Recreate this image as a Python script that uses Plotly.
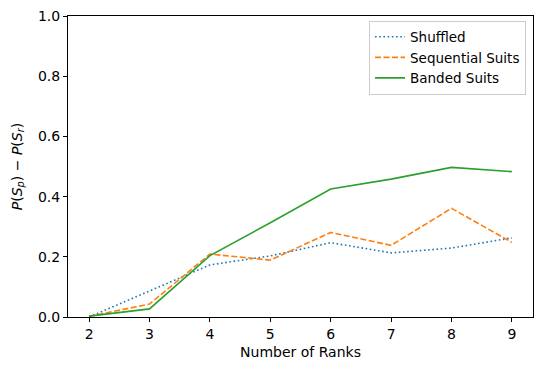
import plotly.graph_objects as go

ranks = [2, 3, 4, 5, 6, 7, 8, 9]
shuffled = [0.0, 0.086, 0.173, 0.203, 0.247, 0.213, 0.229, 0.263]
sequential = [0.002, 0.043, 0.209, 0.189, 0.281, 0.238, 0.361, 0.248]
banded = [0.003, 0.027, 0.204, 0.313, 0.425, 0.458, 0.497, 0.483]

y_ticks = [0.0, 0.2, 0.4, 0.6, 0.8, 1.0]

fig = go.Figure()
fig.add_trace(go.Scatter(x=ranks, y=shuffled, mode="lines", name="Shuffled",
                         line=dict(color="#1f77b4", width=1.6, dash="1.6px,2.6px")))
fig.add_trace(go.Scatter(x=ranks, y=sequential, mode="lines", name="Sequential Suits",
                         line=dict(color="#ff7f0e", width=1.6, dash="6px,2.5px")))
fig.add_trace(go.Scatter(x=ranks, y=banded, mode="lines", name="Banded Suits",
                         line=dict(color="#2ca02c", width=1.6)))

font = dict(family="DejaVu Sans", size=14, color="black")
axis_common = dict(showline=True, linecolor="black", linewidth=1, mirror=True,
                   ticks="outside", ticklen=4, tickcolor="black", showgrid=False,
                   zeroline=False, tickfont=font, automargin=False)

fig.update_layout(
    width=545, height=370,
    margin=dict(l=68, r=12, t=16, b=53),
    plot_bgcolor="white", paper_bgcolor="white",
    font=font,
    xaxis=dict(range=[1.65, 9.35], tickvals=ranks,
               title=dict(text="Number of Ranks", font=font, standoff=6), **axis_common),
    yaxis=dict(range=[0, 1], tickvals=y_ticks, tickformat=".1f",
               title=dict(text="<i>P</i>(<i>S</i><sub><i>p</i></sub>) \u2212 <i>P</i>(<i>S</i><sub><i>r</i></sub>)",
                          font=font, standoff=12), **axis_common),
    legend=dict(x=0.985, y=0.985, xanchor="right", yanchor="top",
                bgcolor="white", bordercolor="#cccccc", borderwidth=1,
                font=dict(family="DejaVu Sans", size=13.5, color="black"),
                tracegroupgap=0, itemwidth=30),
    showlegend=True,
)

fig.write_html("out.html", config={"displayModeBar": False},
               post_script="document.body.style.margin='0px';")
